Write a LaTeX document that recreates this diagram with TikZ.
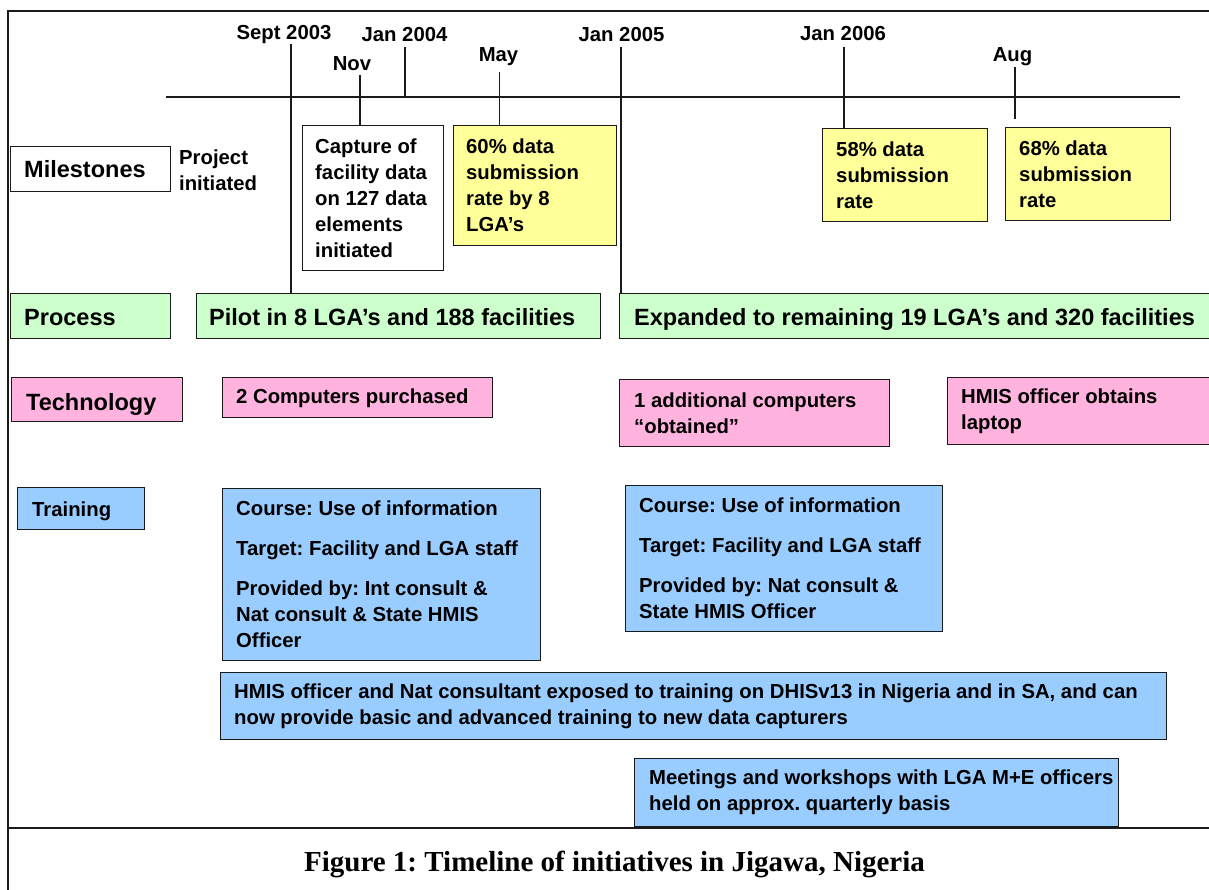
\documentclass[tikz,border=0pt]{standalone}
\usepackage{fontspec}
\setmainfont{Liberation Sans}
\newfontfamily\capfont{Liberation Serif}
\frenchspacing
\definecolor{yel}{HTML}{FFFF99}
\definecolor{grn}{HTML}{CCFFCC}
\definecolor{pnk}{HTML}{FFB3DE}
\definecolor{blu}{HTML}{99CCFF}
\definecolor{edge}{HTML}{1A1A1A}
\newcommand\ftS{\fontsize{20.3}{26}\selectfont\bfseries}
\newcommand\ftB{\fontsize{23.5}{28}\selectfont\bfseries}
\tikzset{
  box/.style={draw=edge, line width=1.4pt, anchor=north west, inner sep=0pt},
  txt/.style={anchor=west, align=left, inner sep=0pt, font=\ftS},
  bigtxt/.style={anchor=base west, inner sep=0pt, font=\ftB},
  onetxt/.style={anchor=base west, inner sep=0pt, font=\ftS},
  datelbl/.style={anchor=base, inner sep=0pt, font=\ftS},
  tick/.style={line width=1.4pt, draw=edge},
  frame/.style={line width=2pt, draw=edge}
}
\begin{document}
\begin{tikzpicture}[x=1pt,y=-1pt]
\clip (0,0) rectangle (1209,890);
\fill[white] (0,0) rectangle (1209,890);
% frame
\draw[frame] (1215,11) -- (8,11) -- (8,895);
\draw[frame] (8,828) -- (1215,828);
% timeline
\coordinate (tlA) at (166,97);
\coordinate (tlB) at (1180,97);
\draw[line width=1.8pt, draw=edge] (tlA) -- (tlB);
% row labels
\node[box, minimum width=160pt, minimum height=45pt] (ms) at (10,146) {};
\node[bigtxt] (mst) at ([xshift=14pt, yshift=-8.2pt]ms.west) {Milestones};
\node[box, fill=grn, minimum width=160pt, minimum height=45pt] (pr) at (10,293) {};
\node[bigtxt] (prt) at ([xshift=14pt, yshift=-8.8pt]pr.west) {Process};
\node[box, fill=pnk, minimum width=171pt, minimum height=44pt] (tech) at (11,377) {};
\node[bigtxt] (techt) at ([xshift=15pt, yshift=-10.5pt]tech.west) {Technology};
\node[box, fill=blu, minimum width=127pt, minimum height=42pt] (trn) at (17,487) {};
\node[onetxt] (trnt) at ([xshift=15pt, yshift=-7.7pt]trn.west) {Training};
% milestones
\node[txt] (proj) at (179,170) {Project\\initiated};
\node[box, minimum width=141pt, minimum height=145pt] (cap) at (302,125) {};
\node[txt] (capt) at ([xshift=13pt]cap.west) {Capture of\\facility data\\on 127 data\\elements\\initiated};
\node[box, fill=yel, minimum width=163pt, minimum height=120pt] (may) at (453,125) {};
\node[txt] (mayt) at ([xshift=13pt]may.west) {60\% data\\submission\\rate by 8\\LGA’s};
\node[box, fill=yel, minimum width=165pt, minimum height=93pt] (s58) at (822,128) {};
\node[txt] (s58t) at ([xshift=14pt]s58.west) {58\% data\\submission\\rate};
\node[box, fill=yel, minimum width=165pt, minimum height=93pt] (s68) at (1005,127) {};
\node[txt] (s68t) at ([xshift=14pt]s68.west) {68\% data\\submission\\rate};
% process
\node[box, fill=grn, minimum width=404pt, minimum height=45pt] (pil) at (196,293) {};
\node[bigtxt] (pilt) at ([xshift=13pt, yshift=-8.8pt]pil.west) {Pilot in 8 LGA’s and 188 facilities};
\node[box, fill=grn, minimum width=600pt, minimum height=45pt] (exp) at (619,293) {};
\node[bigtxt] (expt) at ([xshift=15pt, yshift=-9.5pt]exp.west) {Expanded to remaining 19 LGA’s and 320 facilities};
% technology
\node[box, fill=pnk, minimum width=270pt, minimum height=40pt] (c2) at (222,377) {};
\node[onetxt] (c2t) at ([xshift=14pt, yshift=-6pt]c2.west) {2 Computers purchased};
\node[box, fill=pnk, minimum width=270pt, minimum height=67pt] (c1) at (619,379) {};
\node[txt] (c1t) at ([xshift=15pt]c1.west) {1 additional computers\\“obtained”};
\node[box, fill=pnk, minimum width=280pt, minimum height=67pt] (lap) at (947,377) {};
\node[txt] (lapt) at ([xshift=14pt]lap.west) {HMIS officer obtains\\laptop};
% training
\node[box, fill=blu, minimum width=318pt, minimum height=172pt] (co1) at (222,488) {};
\node[txt] (co1t) at ([xshift=14pt]co1.west) {Course: Use of information\\[14pt]Target: Facility and LGA staff\\[14pt]Provided by: Int consult \&\\Nat consult \& State HMIS\\Officer};
\node[box, fill=blu, minimum width=317pt, minimum height=146pt] (co2) at (625,485) {};
\node[txt] (co2t) at ([xshift=14pt]co2.west) {Course: Use of information\\[14pt]Target: Facility and LGA staff\\[14pt]Provided by: Nat consult \&\\State HMIS Officer};
\node[box, fill=blu, minimum width=946pt, minimum height=67pt] (dh) at (220,672) {};
\node[txt] (dht) at ([xshift=14pt]dh.west) {HMIS officer and Nat consultant exposed to training on DHISv13 in Nigeria and in SA, and can\\now provide basic and advanced training to new data capturers};
\node[box, fill=blu, minimum width=484pt, minimum height=68pt] (mt) at (634,758) {};
\node[txt] (mtt) at ([xshift=15pt]mt.west) {Meetings and workshops with LGA M+E officers\\held on approx. quarterly basis};
% dates and ticks
\node[datelbl] (d1) at (284,40) {Sept 2003};
\node[datelbl] (d2) at (404.5,41.7) {Jan 2004};
\node[datelbl] (d3) at (352,70.7) {Nov};
\node[datelbl] (d4) at (498.5,61.7) {May};
\node[datelbl] (d5) at (621.5,41.7) {Jan 2005};
\node[datelbl] (d6) at (843,40.7) {Jan 2006};
\node[datelbl] (d7) at (1012.5,61.7) {Aug};
\coordinate (k1) at (291,44);
\coordinate (k2) at (405,47.5);
\coordinate (k3) at (360,75);
\coordinate (k4) at (499.5,72);
\coordinate (k5) at (621,47);
\coordinate (k6) at (844,47);
\coordinate (k7) at (1015,67);
\coordinate (k7e) at (1015,119);
\draw[tick] (k1) -- (k1 |- pil.north);
\draw[tick] (k2) -- (k2 |- tlA);
\draw[tick] (k3) -- (k3 |- cap.north);
\draw[tick] (k4) -- (k4 |- may.north);
\draw[tick] (k5) -- (k5 |- exp.north);
\draw[tick] (k6) -- (k6 |- s58.north);
\draw[tick] (k7) -- (k7e);
% caption
\node[anchor=base, inner sep=0pt, font=\capfont\bfseries\fontsize{29}{34}\selectfont] (cap1) at (614.5,871) {Figure 1: Timeline of initiatives in Jigawa, Nigeria};
\end{tikzpicture}
\end{document}
